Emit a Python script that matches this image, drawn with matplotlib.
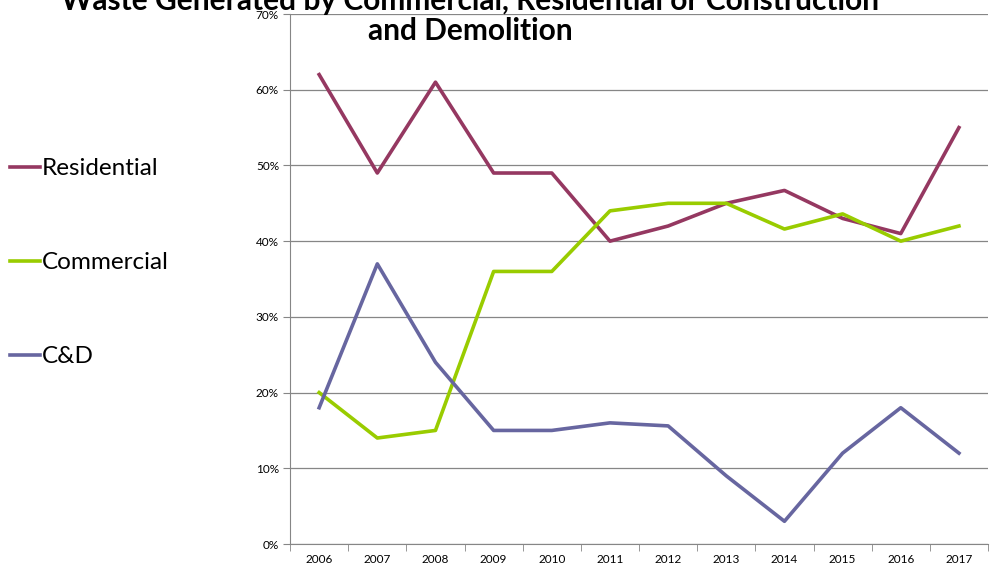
import matplotlib.pyplot as plt
import numpy as np

plt.rcParams['font.family'] = ['Lato', 'DejaVu Sans']

years = ['2006', '2007', '2008', '2009', '2010', '2011', '2012', '2013', '2014', '2015', '2016', '2017']
residential = [62, 49, 61, 49, 49, 40, 42, 45, 46.7, 43, 41, 55]
commercial = [20, 14, 15, 36, 36, 44, 45, 45, 41.6, 43.6, 40, 42]
cd = [18, 37, 24, 15, 15, 16, 15.6, 9, 3, 12, 18, 12]

fig = plt.figure(figsize=(9.9, 5.7), dpi=100)
ax = fig.add_axes([0.293, 0.0456, 0.705, 0.9298])

x = np.arange(len(years))
ax.plot(x, residential, color='#953861', lw=2.6, label='Residential')
ax.plot(x, commercial, color='#99cc00', lw=2.6, label='Commercial')
ax.plot(x, cd, color='#6766a0', lw=2.6, label='C&D')

# axis setup, excel style
ax.set_xlim(-0.5, len(years) - 0.5)
ax.set_ylim(0, 70)
ax.set_yticks(range(0, 71, 10))
ax.set_yticklabels([f'{v}%' for v in range(0, 71, 10)], fontsize=8.5)
ax.set_xticks(x)
ax.set_xticklabels(years, fontsize=8.5)
ax.set_xticks(np.arange(-0.5, len(years)), minor=True)
ax.tick_params(axis='x', which='major', length=0, pad=7)
ax.tick_params(axis='x', which='minor', length=5, color='#868686')
ax.tick_params(axis='y', length=5, color='#868686', pad=3)
ax.grid(axis='y', color='#868686', lw=0.9)
ax.set_axisbelow(True)
for s in ['top', 'right']:
    ax.spines[s].set_visible(False)
for s in ['left', 'bottom']:
    ax.spines[s].set_color('#868686')

# title is cut at the top edge in the original too
fig.text(0.475, 0.929, 'Waste Generated by Commercial, Residential or Construction\nand Demolition',
         ha='center', va='baseline', fontsize=21.5, fontweight='bold', linespacing=1.12)

ax.legend(loc='center left', bbox_to_anchor=(0.005, 0.539), bbox_transform=fig.transFigure,
          frameon=False, fontsize=17.5, handlelength=1.23, handletextpad=0.1,
          labelspacing=3.0, borderaxespad=0, borderpad=0.2)

fig.savefig('out.png', dpi=100)
